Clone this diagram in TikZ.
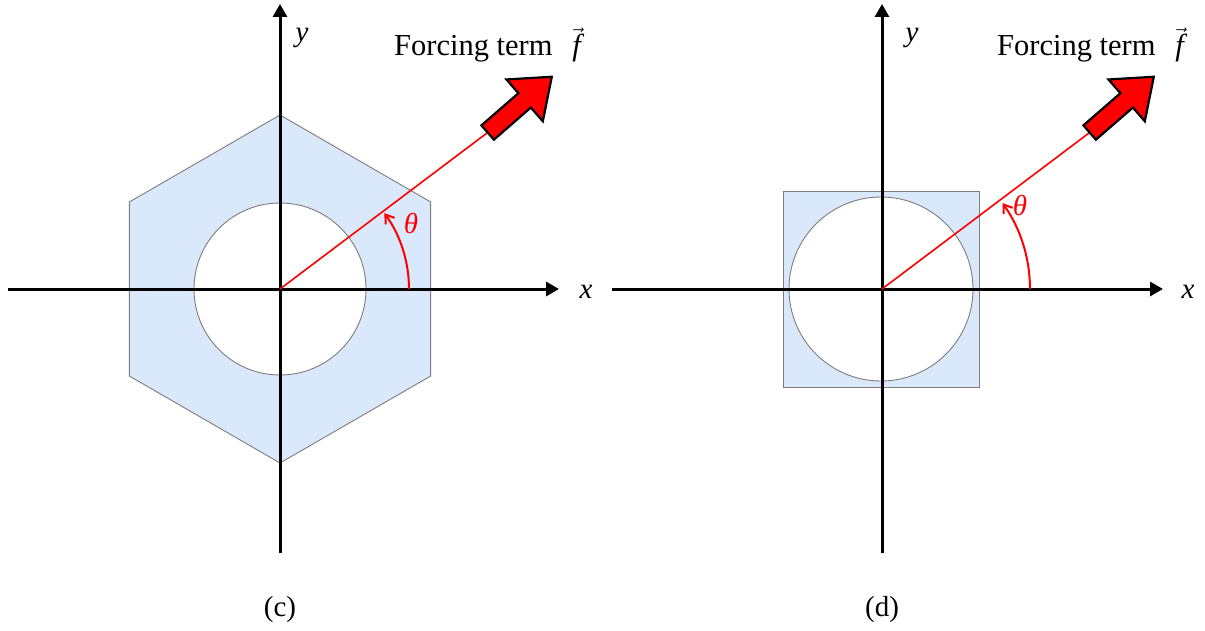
\documentclass[tikz,border=0pt]{standalone}
\usepackage{fontspec}
\setmainfont{Liberation Serif}
\usetikzlibrary{arrows.meta,calc}
\definecolor{shapefill}{RGB}{218,232,252}
\definecolor{shapeline}{RGB}{125,125,125}
\begin{document}
\begin{tikzpicture}[x=1pt,y=-1pt,
  axis/.style={line width=3pt,-{Triangle[width=14pt,length=13pt]}},
  region/.style={fill=shapefill,draw=shapeline,line width=0.9pt},
  hole/.style={fill=white,draw=shapeline,line width=0.9pt},
  forceline/.style={red,line width=1.6pt},
  anglearc/.style={red,line width=2pt,-{Straight Barb[length=8pt,width=11pt,line width=2pt]}},
  bigarrow/.style={fill=red,draw=black,line width=2.2pt,line join=miter},
  lbl/.style={font=\fontsize{29}{34}\selectfont,inner sep=0pt},
  title/.style={font=\fontsize{30.5}{36}\selectfont,inner sep=0pt}]
\useasboundingbox (0,0) rectangle (1205,631);

% ---------------- panel (c)
\coordinate (cO) at (280,289);
\coordinate (cxL) at (8,289);
\coordinate (cxR) at (559,289);
\coordinate (cyB) at (280,553);
\coordinate (cyT) at (280,4);
\coordinate (cT) at ($(cO)+(-37:260)$);
\draw[region] ($(cO)+(90:174)$) -- ($(cO)+(30:174)$) -- ($(cO)+(-30:174)$)
  -- ($(cO)+(-90:174)$) -- ($(cO)+(-150:174)$) -- ($(cO)+(150:174)$) -- cycle;
\draw[hole] (cO) circle[radius=86];
\draw[axis] (cxL) -- (cxR);
\draw[axis] (cyB) -- (cyT);
\draw[forceline] (cO) -- (cT);
\draw[anglearc] ($(cO)+(129,0)$) arc[start angle=0,end angle=-36,radius=129];
\begin{scope}[shift={(cT)},rotate=41]
  \draw[bigarrow] (0,-9.5) -- (49,-9.5) -- (49,-27.7) -- (85,0) -- (49,27.7) -- (49,9.5) -- (0,9.5) -- cycle;
\end{scope}
\node[title,anchor=base west] (cF) at (394,56) {Forcing term\hspace{0.65em}$\vec{\mbox{\itshape f}}$};
\node[lbl] (cx) at (586,292) {\itshape x};
\node[lbl] (cy) at (302,38) {\itshape y};
\node[lbl,red] (cth) at (411,224) {\itshape θ};
\node[lbl] (cc) at (280,610) {(c)};

% ---------------- panel (d)
\coordinate (dO) at (882,289);
\coordinate (dxL) at (612,289);
\coordinate (dxR) at (1163,289);
\coordinate (dyB) at (882,553);
\coordinate (dyT) at (882,4);
\coordinate (dT) at ($(dO)+(-37:260)$);
\draw[region] (783,191) rectangle (979,387);
\draw[hole] (881,289) circle[radius=92];
\draw[axis] (dxL) -- (dxR);
\draw[axis] (dyB) -- (dyT);
\draw[forceline] (dO) -- (dT);
\draw[anglearc] ($(dO)+(148,0)$) arc[start angle=0,end angle=-35.5,radius=148];
\begin{scope}[shift={(dT)},rotate=41]
  \draw[bigarrow] (0,-9.5) -- (49,-9.5) -- (49,-27.7) -- (85,0) -- (49,27.7) -- (49,9.5) -- (0,9.5) -- cycle;
\end{scope}
\node[title,anchor=base west] (dF) at (997,56) {Forcing term\hspace{0.65em}$\vec{\mbox{\itshape f}}$};
\node[lbl] (dx) at (1188,292) {\itshape x};
\node[lbl] (dy) at (912,38) {\itshape y};
\node[lbl,red] (dth) at (1020,206) {\itshape θ};
\node[lbl] (dd) at (882,610) {(d)};
\end{tikzpicture}
\end{document}
